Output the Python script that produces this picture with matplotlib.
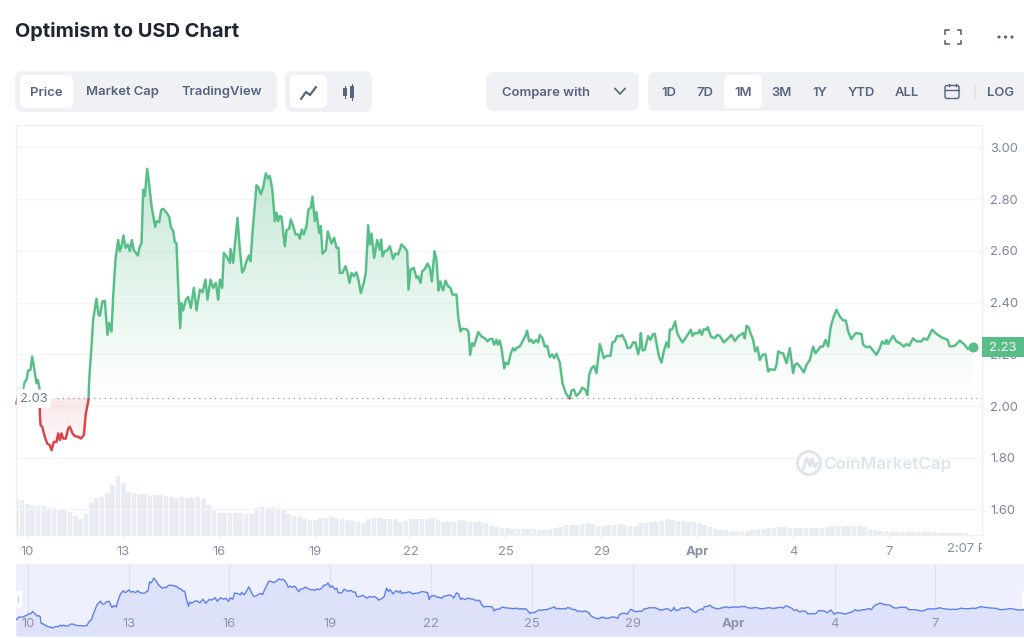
import numpy as np
import matplotlib
matplotlib.use("Agg")
import matplotlib.pyplot as plt
from matplotlib.patches import FancyBboxPatch, Rectangle, Circle, Polygon, Arc
from matplotlib.transforms import Bbox, TransformedBbox

plt.rcParams['font.family'] = ['Inter', 'DejaVu Sans']

# ---- data ----
hours = [-8.25,-6.25,-3.25,-2,-0.75,0.5,2.25,3.5,5,6.75,7.75,9,9.25,9.75,11,13,14.75,16.75,18,19.75,21.75,23,24.25,25.5,26.75,28.75,30.5,31.75,33.75,35.5,38,40,42.25,43.75,45.75,46.25,48,49.25,51.75,53.25,54.25,56.25,58,60,61.25,63,64.25,66,68,69.25,70.5,72,73.5,75.25,76.75,78.25,79.75,82.75,84.25,85.5,86.75,88,89.75,91.25,93,95.75,96.75,98.75,100.25,101.75,104.25,106.25,107.5,109.25,110.5,111.75,113,114.5,115.5,116.75,118.75,120.5,122.5,124.75,126.75,129.25,131.25,133.5,135,137.25,139.25,141.25,143,144.25,146,147.25,149.25,151.75,152.25,154.25,157.5,159.25,161,162.5,164.25,166,167.25,168.75,171.75,173.25,175,176.75,178.75,180.5,181.75,183.5,184.25,185.5,186.75,188,189.25,190.5,193,194.25,196.25,197.5,199.25,201,203,204.25,205.75,207.25,209.25,210.75,212.5,213.75,215.5,216.75,218.75,220,221.25,223.75,225.25,228,230,231.75,233.25,
234.25,236.25,238.5,239.75,241.5,243,244.75,246.75,248.5,250,252.25,253.75,255.5,256.75,258,260,262.25,264.25,265.25,266.25,268,270,271.75,274.25,276,278,280.5,283,284.75,285.75,287.25,289.75,291.75,293,294.75,296,298,300,301.75,303.25,305.25,306.75,308.25,309.5,310.5,311.75,313.5,315.5,317.25,318.75,321.75,323,324.75,326.25,329.25,330.75,332,333.5,335,338,340.5,343.5,345,346.75,348.75,350,351.75,352.75,354.25,355.75,357.5,358.5,360.5,362.5,364.25,365.5,367.5,369.25,371.25,373.25,374.75,376.25,378,379.25,381.75,383,384.25,386.25,388,389.75,391.75,393.5,395,396.75,399.25,401.25,403.75,406.75,408,409.75,411.75,414.25,416,418.25,420,421.25,423,425,426.75,429.25,432.25,434.25,437.25,438.75,440.5,442.25,444.25,446,448.5,450,452.25,454.25,456,458,459.25,460,461.25,463,465.5,467.25,469.25,470.5,473.5,475.5,477.5,479.25,480.75,481.75,483.5,485.75,487.25,489.25,
491.25,494.25,496,497.5,498.75,500.5,503,504.25,505.75,507.25,509.25,510.25,512.5,515.5,517.25,519.25,522.25,525.5,528,530.5,533,536.75,538,539.25,540.75,542.25,544.25,545.75,547.5,549.25,551.25,553.5,555.5,556.75,560.5,561.75,563,565.5,566.75,569.25,571.75,574.25,575.5,577.25,579.75,582.25,584.25,586.75,589.25,591,593,594.75,596.75,598.5,600.5,602.5,604.75,606.75,609.25,611.75,613.75,615.5,618,619.25,621.25,625.5,626.75,629.25,631.75,633.75,636.75,639.25,641,643,644.25,645.5,647.25,649.25,651.75,654.25,657.25,659.25,661.25,664.25,666.75,670.5,672.25,674.75,678.5,681.75,685.5,690,691.75,695.5,699.25,702.25,705.5,709.25]

price = [2.010,2.068,2.068,2.094,2.101,2.137,2.140,2.191,2.146,2.088,2.101,2.068,1.971,1.926,1.920,1.881,1.855,1.848,1.829,1.861,1.861,1.894,1.868,1.894,1.874,1.874,1.913,1.920,1.894,1.883,1.881,1.874,1.887,1.971,2.023,2.101,2.230,2.334,2.415,2.353,2.349,2.405,2.407,2.275,2.321,2.288,2.424,2.567,2.642,2.599,2.618,2.660,2.612,2.625,2.599,2.642,2.603,2.582,2.618,2.629,2.836,2.812,2.918,2.858,2.774,2.693,2.715,2.711,2.758,2.763,2.748,2.732,2.693,2.677,2.634,2.629,2.463,2.301,2.398,2.370,2.411,2.422,2.379,2.457,2.370,2.450,2.440,2.489,2.411,2.489,2.457,2.476,2.411,2.489,2.457,2.592,2.579,2.554,2.608,2.554,2.728,2.605,2.517,2.528,2.560,2.582,2.560,2.670,2.854,2.845,2.819,2.845,2.900,2.880,2.890,2.841,2.799,2.715,2.748,2.715,2.735,2.732,2.618,2.680,2.686,2.722,2.696,2.664,2.664,2.647,2.683,2.664,2.696,2.761,2.767,2.810,2.715,2.750,2.670,2.696,2.589,2.603,2.675,2.629,2.651,2.612,2.612,
2.515,2.515,2.541,2.521,2.476,2.515,2.502,2.517,2.482,2.437,2.476,2.515,2.699,2.625,2.667,2.573,2.642,2.605,2.644,2.579,2.599,2.603,2.618,2.569,2.590,2.586,2.625,2.612,2.599,2.450,2.528,2.534,2.495,2.502,2.476,2.521,2.530,2.551,2.534,2.482,2.599,2.567,2.447,2.482,2.463,2.447,2.485,2.463,2.457,2.431,2.431,2.347,2.288,2.299,2.297,2.288,2.198,2.243,2.233,2.286,2.269,2.260,2.250,2.259,2.259,2.237,2.256,2.237,2.253,2.217,2.146,2.168,2.161,2.204,2.224,2.215,2.227,2.230,2.250,2.269,2.291,2.250,2.256,2.243,2.256,2.246,2.275,2.262,2.230,2.233,2.189,2.200,2.185,2.202,2.168,2.088,2.049,2.029,2.059,2.064,2.039,2.052,2.071,2.064,2.042,2.120,2.146,2.155,2.127,2.240,2.185,2.194,2.194,2.246,2.250,2.271,2.269,2.275,2.250,2.224,2.226,2.246,2.246,2.200,2.230,2.282,2.215,2.217,2.271,2.256,2.279,2.279,2.194,2.168,2.217,2.246,2.227,2.295,2.297,2.327,2.284,2.262,
2.246,2.269,2.282,2.295,2.271,2.282,2.282,2.295,2.275,2.297,2.295,2.305,2.269,2.262,2.275,2.271,2.246,2.262,2.275,2.252,2.269,2.282,2.262,2.310,2.305,2.282,2.256,2.211,2.227,2.178,2.198,2.200,2.133,2.142,2.140,2.159,2.211,2.204,2.204,2.165,2.224,2.127,2.159,2.165,2.150,2.130,2.159,2.178,2.230,2.204,2.217,2.230,2.230,2.256,2.230,2.308,2.347,2.372,2.347,2.331,2.331,2.288,2.259,2.269,2.282,2.279,2.237,2.227,2.230,2.217,2.198,2.224,2.250,2.240,2.256,2.240,2.256,2.271,2.250,2.243,2.230,2.240,2.233,2.262,2.250,2.250,2.262,2.256,2.295,2.279,2.266,2.256,2.230,2.233,2.253,2.240,2.220,2.230]

# volume in $M, one bar each 4 h from the first hour
volume = [37,35,31,29,29,29,27,27,26,25,23,19,16,21,32,37,38,42,50,59,52,43,42,41,41,39,40,40,39,38,37,38,37,37,38,36,30,24,22,22,22,22,22,21,21,27,28,27,28,27,26,21,19,18,16,15,15,17,17,18,17,16,15,14,13,12,16,17,17,16,16,16,13,14,16,16,16,16,17,15,13,13,13,15,14,13,13,13,12,9,8,7,7,6,6,6,6,6,5,5.5,6,7,8,10,10,10,11,12,11,9,9,10,10,11,10,9,9,12,12,13,13,14,16,15,14,14,13,13,12,10,8,6,5,5,4,4,3,4,5,6,6,7,7,8,8,7,7,7,7,7,7,7,8,9,9,9,9,9,9,8,6,5,4,4,3.5,3.5,3,3,3,3,3,3,3,2.5,2.5,2.5,2.5,2,2]
volume_start_hour = -8
volume_step_hours = 4

baseline = 2.03
last_price = 2.23
y_ticks = [1.6, 1.8, 2.0, 2.2, 2.4, 2.6, 2.8, 3.0]
x_tick_hours = [0, 71.8, 143.6, 215.4, 287.2, 359, 430.8, 502.6, 574.4, 646.2]
x_tick_labels = ['10', '13', '16', '19', '22', '25', '29', 'Apr', '4', '7']
last_tick_hour = 708.4
last_tick_label = '2:07 PM'

hours = np.array(hours, float)
price = np.array(price, float)
volume = np.array(volume, float)
vol_hours = volume_start_hour + volume_step_hours * np.arange(len(volume))

W, H = 1024, 638
GREEN = '#57BE88'
RED = '#D9444A'
GRID = '#F4F5F8'
BORDER = '#EDF0F5'
LABEL = '#7F859C'
PILL = '#EFF1F5'
UI = '#58637E'

fig = plt.figure(figsize=(W / 100, H / 100), dpi=100, facecolor='white')

def rect(x0, y0, x1, y1):
    return [x0 / W, 1 - y1 / H, (x1 - x0) / W, (y1 - y0) / H]

# ---- volume ----
ax_v = fig.add_axes(rect(16, 125, 982, 535), zorder=1)
ax_v.set_xlim(-8.625, 715.9)
ax_v.set_ylim(0, 410)
ax_v.bar(vol_hours, volume, width=3.5, color='#E9ECF2', linewidth=0)
ax_v.axis('off')

# ---- main price ----
ax = fig.add_axes(rect(16, 125, 982, 535), zorder=2)
ax.patch.set_alpha(0)
ax.set_xlim(-8.625, 715.9)
ax.set_ylim(1.501, 3.087)
ax.grid(axis='y', color=GRID, lw=1)
ax.set_axisbelow(True)
for s in ax.spines.values():
    s.set_color(BORDER)
    s.set_linewidth(1)
ax.yaxis.tick_right()
ax.set_yticks(y_ticks)
ax.set_yticklabels([f'{v:.2f}' for v in y_ticks])
ax.tick_params(axis='y', length=0, pad=6, labelsize=9.3, labelcolor=LABEL)
ax.set_xticks(x_tick_hours + [last_tick_hour])
ax.set_xticklabels(x_tick_labels + [''])
ax.tick_params(axis='x', length=3, width=1, color=BORDER, pad=5, labelsize=9.4, labelcolor='#8A90A4')
apr = ax.get_xticklabels()[7]
apr.set_fontweight('bold')
last = ax.text(last_tick_hour, -0.0345, last_tick_label, transform=ax.get_xaxis_transform(),
               ha='center', va='center', fontsize=9.4, color='#8A90A4', clip_on=True)
last.set_clip_box(TransformedBbox(Bbox([[0, 0], [982 / W, 1]]), fig.transFigure))

# gradient area above baseline
def gradient(color, a_top, a_bot, y_top, y_bot, mask):
    rgba = np.zeros((256, 2, 4))
    rgba[..., :3] = matplotlib.colors.to_rgb(color)
    rgba[..., 3] = np.linspace(a_top, a_bot, 256)[:, None]
    im = ax.imshow(rgba, extent=(hours[0], hours[-1], y_bot, y_top), aspect='auto',
                   origin='upper', zorder=1.5, interpolation='bilinear')
    poly = np.column_stack([np.r_[hours[0], hours, hours[-1]],
                            np.r_[baseline, mask, baseline]])
    patch = Polygon(poly, closed=True, transform=ax.transData, fc='none', ec='none')
    ax.add_patch(patch)
    im.set_clip_path(patch)

gradient(GREEN, 0.34, 0.0, 2.92, 2.03, np.maximum(price, baseline))
gradient(RED, 0.13, 0.015, 2.03, 1.83, np.minimum(price, baseline))
ax.set_xlim(-8.625, 715.9)
ax.set_ylim(1.501, 3.087)

# line coloured by baseline
l1, = ax.plot(hours, price, color=GREEN, lw=1.75, zorder=3, solid_joinstyle='round')
l1.set_clip_path(Rectangle((-20, baseline), 800, 2, transform=ax.transData))
l2, = ax.plot(hours, price, color=RED, lw=1.75, zorder=3, solid_joinstyle='round')
l2.set_clip_path(Rectangle((-20, 1), 800, baseline - 1, transform=ax.transData))

ax.plot([22, 715.9], [baseline, baseline], ls=(0, (1, 3.2)), lw=0.9, color='#9097A8', zorder=3)
ax.text(4.6, baseline - 0.002, f'{baseline:.2f}', fontsize=9.3, color='#6F7690', ha='center', va='center', zorder=4,
        bbox=dict(fc='white', ec='none', boxstyle='round,pad=0.25'))
ax.plot(hours[-1], price[-1], 'o', ms=7.2, color=GREEN, mec='none', zorder=5, clip_on=False)

# ---- navigator ----
ax_n = fig.add_axes(rect(16, 564, 1024, 636), zorder=2)
ax_n.set_facecolor('#EEF1FD')
ax_n.set_xlim(-8.33, 709.25)
ax_n.set_ylim(1.656, 3.224)
ax_n.fill_between(hours, price, 1.656, color='#DDE2FA', lw=0)
ax_n.plot(hours, price, color='#5E7FEF', lw=1.0)
for s in ax_n.spines.values():
    s.set_visible(False)
ax_n.set_yticks([])
ax_n.set_xticks(x_tick_hours)
ax_n.set_xticklabels([])
ax_n.tick_params(axis='x', length=0)
ax_n.grid(axis='x', color='#DDE1F1', lw=1)
ax_n.set_axisbelow(True)
for h, lab in zip(x_tick_hours, x_tick_labels):
    ax_n.text(h, 0.16, lab, transform=ax_n.get_xaxis_transform(), ha='center', va='center', fontsize=9.4,
              color='#8F95A9', fontweight='bold' if lab == 'Apr' else 'normal')

# ---- page chrome, in pixel coordinates ----
ui = fig.add_axes([0, 0, 1, 1], zorder=5)
ui.set_xlim(0, W)
ui.set_ylim(H, 0)
ui.axis('off')
ui.patch.set_alpha(0)

def pill(x0, y0, x1, y1, color, r=8):
    ui.add_patch(FancyBboxPatch((x0 + r, y0 + r), x1 - x0 - 2 * r, y1 - y0 - 2 * r,
                                boxstyle=f'round,pad={r},rounding_size={r}', fc=color, ec='none',
                                clip_on=True))

def txt(x, y, s, size=9.4, color=UI, weight=600, ha='center'):
    ui.text(x, y, s, fontsize=size, color=color, fontweight=weight, ha=ha, va='center')

ui.text(15, 31.5, 'Optimism to USD Chart', fontsize=14.4, fontweight='bold', color='#222531', ha='left', va='center')

# fade of the line's hidden start under the price label
ui.add_patch(Rectangle((17, 383), 6, 12, fc='white', ec='none', alpha=0.8))

pill(15, 71, 277, 112, PILL)
pill(20, 75, 73, 108, 'white', 6)
txt(46, 92.5, 'Price')
txt(122, 92.5, 'Market Cap')
txt(222, 92.5, 'TradingView')
pill(285, 71, 372, 112, PILL)
pill(290, 75, 327, 108, 'white', 6)
ui.plot([301, 306, 310, 316], [99, 92, 95, 87], color=UI, lw=1.6, solid_capstyle='round')
for cx, y0, y1 in [(345, 88, 96), (352, 86, 98)]:
    ui.add_patch(Rectangle((cx - 2, y0), 4, y1 - y0, fc=UI, ec='none'))
    ui.plot([cx, cx], [y0 - 2, y1 + 2], color=UI, lw=0.8)

pill(486, 72, 639, 111, PILL)
txt(546, 93, 'Compare with')
ui.plot([615, 620, 625], [88.5, 94, 88.5], color=UI, lw=1.2)

pill(648, 72, 1040, 111, PILL)
pill(724, 75, 762, 108, 'white', 6)
for x, s in [(669, '1D'), (705, '7D'), (743, '1M'), (782, '3M'), (820, '1Y'), (861, 'YTD'), (907, 'ALL')]:
    txt(x, 93, s)
txt(1001, 92.5, 'LOG', weight=600)
ui.add_patch(FancyBboxPatch((945.5, 86), 13, 12, boxstyle='round,pad=0.5,rounding_size=2', fc='none', ec=UI, lw=1))
ui.plot([945, 959], [90, 90], color=UI, lw=1)
ui.plot([948.5, 948.5], [83.5, 86], color=UI, lw=1)
ui.plot([955.5, 955.5], [83.5, 86], color=UI, lw=1)
ui.plot([975, 975], [85, 98], color='#DEE1E8', lw=1)

# fullscreen and more icons
for sx, sy in [(945, 30), (961, 30), (945, 44), (961, 44)]:
    dx = 3.5 if sx < 953 else -3.5
    dy = 3.5 if sy < 37 else -3.5
    ui.plot([sx + dx, sx, sx], [sy, sy, sy + dy], color=UI, lw=1.2)
for x in (999, 1005.5, 1012):
    ui.add_patch(Circle((x, 37), 1.6, fc=UI, ec='none'))

# price tag
ui.add_patch(Rectangle((982, 337), 42, 20, fc=GREEN, ec='none'))
txt(1003, 348, f'{last_price:.2f}', size=9.4, color='white', weight=400)

# watermark
WM = '#DFE3EB'
ui.add_patch(Arc((809, 463), 23, 23, theta1=0, theta2=360, ec=WM, lw=2))
ui.plot([803, 807, 810, 812, 815, 817], [469, 458, 466, 459, 467, 463], color=WM, lw=2)
ui.text(823, 464, 'CoinMarketCap', fontsize=12.2, fontweight=600, color=WM, ha='left', va='center')

# navigator handles
pill(16, 590, 22, 608, 'white', 2.5)
pill(1022, 590, 1030, 608, 'white', 2.5)
ui.plot([18, 18], [596, 602], color='#C7CBD6', lw=0.8)

fig.savefig('out.png', dpi=100, facecolor='white')
